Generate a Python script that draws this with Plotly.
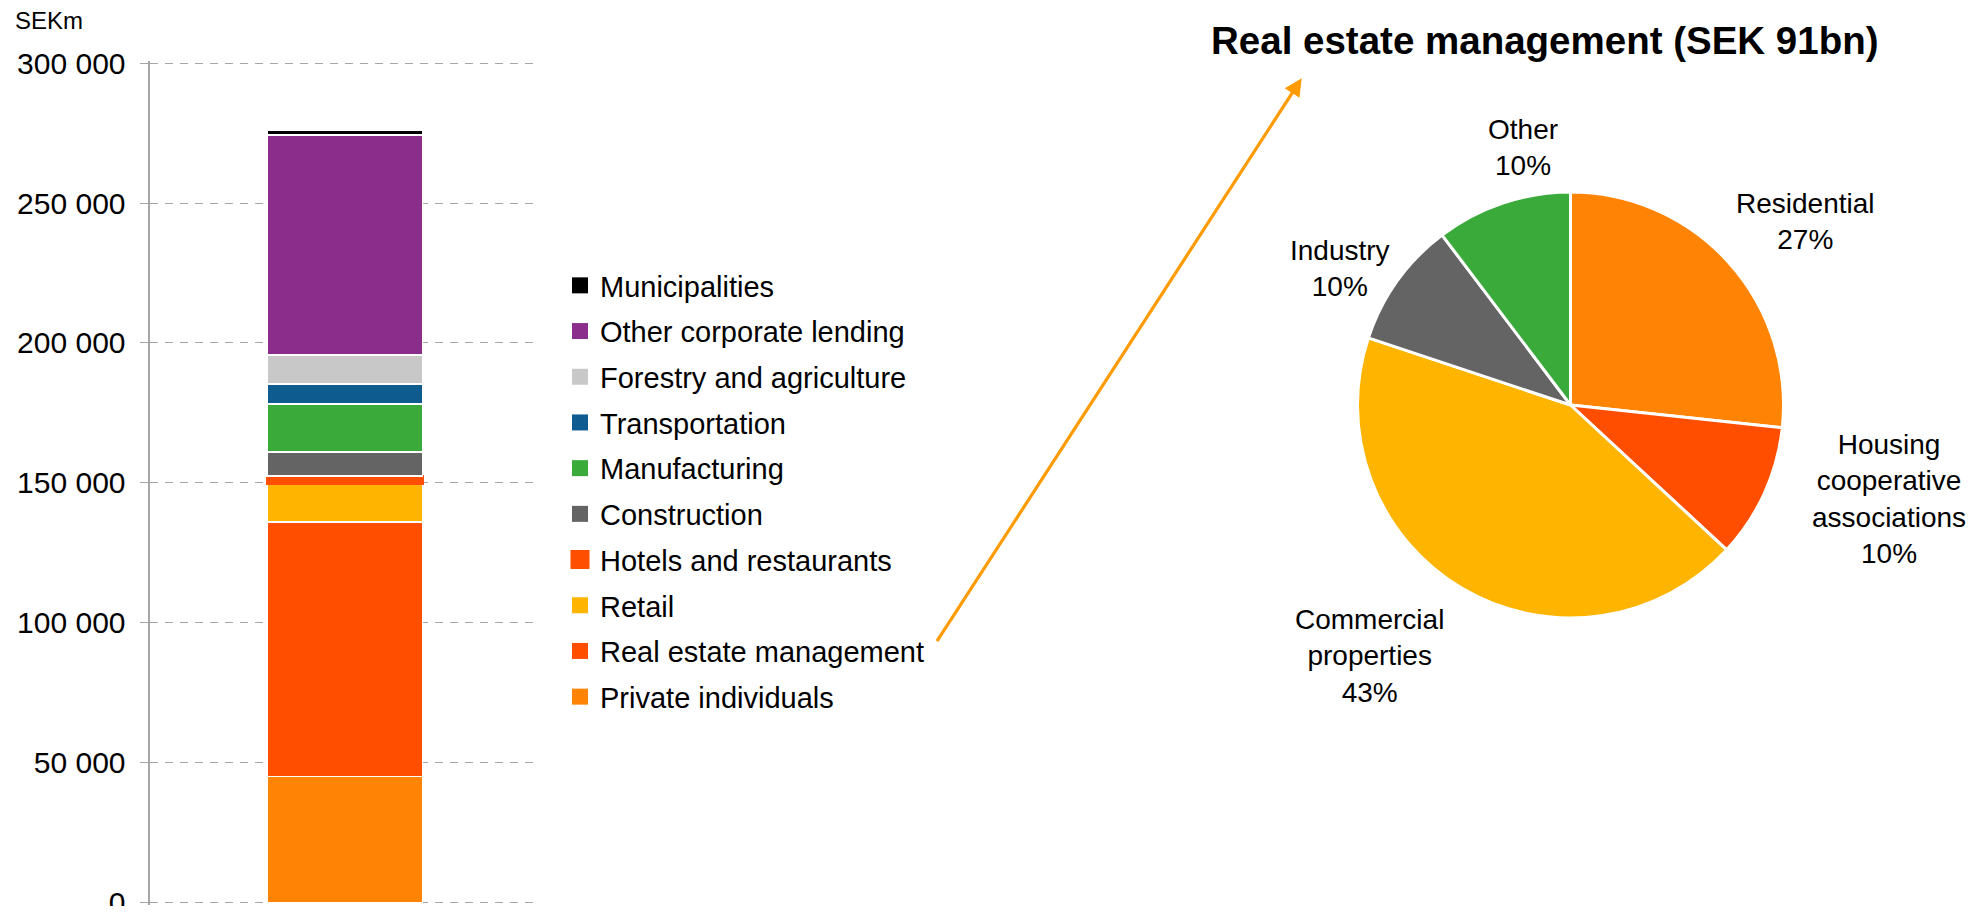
import math
import plotly.graph_objects as go

# reference canvas is 1978x914; the page body keeps its default 8px margin,
# so the figure is made 16px smaller and every position is shifted by 8px
W, H = 1978, 914
OFF = 8
FW, FH = W - 2 * OFF, H - 2 * OFF
FONT = "Liberation Sans, Arial, sans-serif"


def px_x(x):
    return (x - OFF) / FW


def px_y(y):
    return (FH - (y - OFF)) / FH


# ---------------------------------------------------------------------------
# Data
# ---------------------------------------------------------------------------

# stacked bar, bottom to top (SEKm)
sectors = [
    "Private individuals",
    "Real estate management",
    "Retail",
    "Hotels and restaurants",
    "Construction",
    "Manufacturing",
    "Transportation",
    "Forestry and agriculture",
    "Other corporate lending",
    "Municipalities",
]
lending = [45000, 91000, 13600, 2800, 8700, 17000, 7300, 10300, 78700, 1600]
sector_colors = [
    "#FF8405", "#FF4E00", "#FFB400", "#FF4E00", "#646464",
    "#3AAA3A", "#0D5B8F", "#C8C8C8", "#8B2D8B", "#000000",
]

y_ticks = [0, 50000, 100000, 150000, 200000, 250000, 300000]
y_ticktext = ["0", "50 000", "100 000", "150 000", "200 000", "250 000", "300 000"]

# pie: real estate management breakdown, clockwise from 12 o'clock
re_labels = ["Residential", "Housing<br>cooperative<br>associations",
             "Commercial<br>properties", "Industry", "Other"]
re_share = [26.7, 10.2, 43.2, 9.6, 10.3]
re_colors = ["#FF8405", "#FF4E00", "#FFB400", "#646464", "#3AAA3A"]

# label placement style (angular nudge in degrees, radius multiple)
label_nudge = [4, -8, 8, -5, 8]
label_dist = [1.40, 1.56, 1.51, 1.26, 1.23]

# ---------------------------------------------------------------------------
# Figure
# ---------------------------------------------------------------------------

fig = go.Figure()

for name, val, col in zip(sectors, lending, sector_colors):
    hotel = name == "Hotels and restaurants"
    fig.add_trace(go.Bar(
        x=["Total"],
        y=[val],
        name=name,
        showlegend=False,
        marker=dict(color=col,
                    line=dict(color=col if hotel else "white", width=2.5 if hotel else 1.5)),
        hovertemplate=f"{name}: %{{y:,}}<extra></extra>",
    ))

# legend entries (top of stack first)
for name, col in zip(sectors[::-1], sector_colors[::-1]):
    hotel = name == "Hotels and restaurants"
    fig.add_trace(go.Scatter(
        x=[None], y=[None],
        mode="markers",
        name=name,
        legendgroup=name,
        marker=dict(symbol="square", size=16, color=col,
                    line=dict(color=col, width=3 if hotel else 0)),
    ))

# pie geometry in reference px
PIE_CX, PIE_CY, PIE_R = 1570.5, 405, 213

fig.add_trace(go.Pie(
    labels=re_labels,
    values=re_share,
    sort=False,
    direction="clockwise",
    rotation=0,
    textinfo="none",
    marker=dict(colors=re_colors, line=dict(color="white", width=3)),
    domain=dict(x=[px_x(PIE_CX - PIE_R), px_x(PIE_CX + PIE_R)],
                y=[px_y(PIE_CY + PIE_R), px_y(PIE_CY - PIE_R)]),
    showlegend=False,
    hovertemplate="%{label}<br>%{percent}<extra></extra>",
))

annotations = []

# pie labels placed around slice mid-angles
total = sum(re_share)
cum = 0.0
for lab, v, nud, dist in zip(re_labels, re_share, label_nudge, label_dist):
    mid = (cum + v / 2) / total * 360 + nud
    cum += v
    a = math.radians(mid)
    lx = PIE_CX + dist * PIE_R * math.sin(a)
    ly = PIE_CY - dist * PIE_R * math.cos(a)
    annotations.append(dict(
        x=px_x(lx), y=px_y(ly), xref="paper", yref="paper",
        text=f"{lab}<br>{round(v / total * 100):.0f}%",
        showarrow=False, xanchor="center", yanchor="middle",
        font=dict(family=FONT, size=28, color="#000000"),
    ))

annotations += [
    dict(x=px_x(13), y=px_y(21), xref="paper", yref="paper", text="SEKm",
         showarrow=False, xanchor="left", yanchor="middle",
         font=dict(family=FONT, size=24, color="#000000")),
    dict(x=px_x(1545), y=px_y(40), xref="paper", yref="paper",
         text="<b>Real estate management (SEK 91bn)</b>",
         showarrow=False, xanchor="center", yanchor="middle",
         font=dict(family=FONT, size=38.5, color="#000000")),
    # arrow from the legend entry to the pie title
    dict(x=px_x(1301.7), y=px_y(78.3), xref="paper", yref="paper", text="",
         showarrow=True, ax=-365.7, ay=564.4, arrowhead=2, arrowsize=1.1,
         arrowwidth=3.2, arrowcolor="#FF9A00", standoff=0),
]

# y axis: 0 at 902.3px, 300 000 at 63.3px; range padded a little so the
# end gridlines are drawn
Y_PAD = 1000
px_per_unit = (902.3 - 63.3) / 300000

fig.update_layout(
    width=FW,
    height=FH,
    margin=dict(l=0, r=0, t=0, b=0),
    paper_bgcolor="white",
    plot_bgcolor="white",
    barmode="stack",
    bargap=0.6,
    font=dict(family=FONT, color="#000000"),
    xaxis=dict(
        domain=[px_x(150.3), px_x(539)],
        type="category",
        range=[-0.5, 0.5],
        showticklabels=False,
        showgrid=False,
        zeroline=False,
        showline=False,
        ticks="",
        fixedrange=True,
    ),
    yaxis=dict(
        domain=[px_y(902.3 + Y_PAD * px_per_unit), px_y(63.3 - Y_PAD * px_per_unit)],
        range=[-Y_PAD, 300000 + Y_PAD],
        tickvals=y_ticks,
        ticktext=y_ticktext,
        tickfont=dict(family=FONT, size=30, color="#000000"),
        ticks="outside",
        ticklen=9,
        tickcolor="#A6A6A6",
        tickwidth=1.3,
        ticklabelstandoff=8,
        ticklabeloverflow="allow",
        showline=True,
        linecolor="#A6A6A6",
        linewidth=1.5,
        showgrid=True,
        gridcolor="#A6A6A6",
        gridwidth=1.2,
        griddash="8px,7px",
        zeroline=False,
        automargin=False,
    ),
    legend=dict(
        x=px_x(560),
        y=px_y(260),
        xanchor="left",
        yanchor="top",
        traceorder="grouped",
        tracegroupgap=5,
        font=dict(family=FONT, size=29, color="#000000"),
        bgcolor="rgba(0,0,0,0)",
    ),
    annotations=annotations,
)

fig.write_html("out.html")
